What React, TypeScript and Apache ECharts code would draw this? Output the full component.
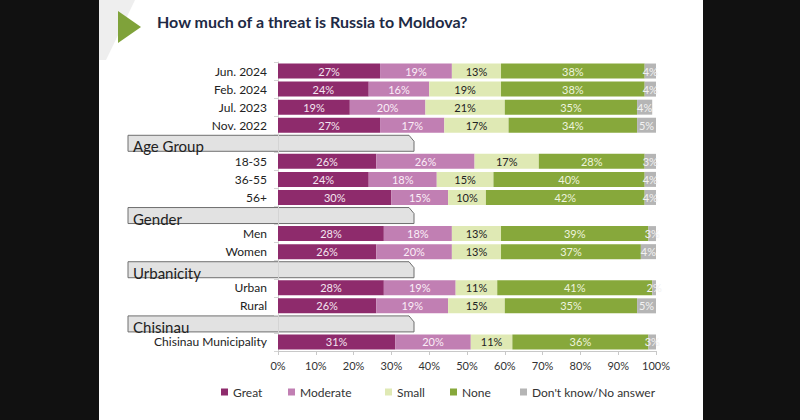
import React, { useEffect, useRef } from "react";
import * as echarts from "echarts";

const categories = [
  "Jun. 2024", "Feb. 2024", "Jul. 2023", "Nov. 2022",
  "Age Group", "18-35", "36-55", "56+",
  "Gender", "Men", "Women",
  "Urbanicity", "Urban", "Rural",
  "Chisinau", "Chisinau Municipality",
];
const headers = ["Age Group", "Gender", "Urbanicity", "Chisinau"];

const seriesNames = ["Great", "Moderate", "Small", "None", "Don't know/No answer"];
const great = [27, 24, 19, 27, null, 26, 24, 30, null, 28, 26, null, 28, 26, null, 31];
const moderate = [19, 16, 20, 17, null, 26, 18, 15, null, 18, 20, null, 19, 19, null, 20];
const small = [13, 19, 21, 17, null, 17, 15, 10, null, 13, 13, null, 11, 15, null, 11];
const none = [38, 38, 35, 34, null, 28, 40, 42, null, 39, 37, null, 41, 35, null, 36];
const dontKnow = [4, 4, 4, 5, null, 3, 4, 4, null, 3, 4, null, 2, 5, null, 3];
const xTicks = [0, 10, 20, 30, 40, 50, 60, 70, 80, 90, 100];

const colors = ["#8e2b6c", "#c17fb3", "#dfe9b4", "#87a83b", "#b5b5b5"];
const labelColors = ["#f4e6f0", "#fbeef7", "#222222", "#eef4de", "#f2f2f2"];
const legendLeft = [221, 288, 385, 450, 520];
const FONT = "Lato";

export default function App() {
  const ref = useRef<HTMLDivElement>(null);
  useEffect(() => {
    if (!ref.current) return;
    const chart = echarts.init(ref.current, undefined, { renderer: "svg" });
    const values = [great, moderate, small, none, dontKnow];
    const option: any = {
      animation: false,
      backgroundColor: "#111111",
      textStyle: { fontFamily: FONT },
      title: {
        text: "How much of a threat is Russia to Moldova?",
        left: 157,
        top: 13,
        padding: 0,
        textStyle: { fontSize: 16, fontWeight: "bold", color: "#1e2a45", fontFamily: FONT },
      },
      legend: seriesNames.map((n, i) => ({
        data: [n],
        left: legendLeft[i],
        top: 386,
        padding: 0,
        itemWidth: 7,
        itemHeight: 7,
        icon: "rect",
        selectedMode: false,
        textStyle: { fontSize: 12, color: "#333", fontFamily: FONT },
      })),
      grid: { left: 278, right: 144, top: 62, bottom: 420 - 351 },
      xAxis: {
        type: "value",
        min: 0,
        max: 100,
        interval: 10,
        axisLine: { show: true, lineStyle: { color: "#c8c8c8" } },
        axisTick: { show: true, length: 4, lineStyle: { color: "#c8c8c8" } },
        splitLine: { show: false },
        axisLabel: {
          fontSize: 11,
          color: "#333",
          margin: 9,
          fontFamily: FONT,
          formatter: (v: number) => (xTicks.includes(v) ? v + "%" : ""),
        },
      },
      yAxis: {
        type: "category",
        inverse: true,
        data: categories,
        axisLine: { show: true, lineStyle: { color: "#d4d4d4" } },
        axisTick: { show: true, length: 4, lineStyle: { color: "#d4d4d4" } },
        axisLabel: {
          fontSize: 12,
          color: "#222",
          margin: 11,
          fontFamily: FONT,
          formatter: (v: string) => (headers.includes(v) ? "" : v),
        },
      },
      series: seriesNames.map((n, i) => ({
        name: n,
        type: "bar",
        stack: "total",
        barWidth: 15,
        clip: true,
        itemStyle: { color: colors[i] },
        label: {
          show: true,
          position: "inside",
          fontSize: 11,
          fontFamily: FONT,
          color: labelColors[i],
          formatter: (p: any) => (p.value == null ? "" : p.value + "%"),
        },
        data: values[i],
      })),
    };
    chart.setOption(option);

    const graphics: any[] = [
      { type: "rect", id: "white", z: -10, shape: { x: 99, y: 0, width: 604, height: 420 }, style: { fill: "#ffffff" } },
      { type: "polygon", id: "deco", z: -9, shape: { points: [[99, 0], [135, 0], [106, 60], [99, 60]] }, style: { fill: "#eeeeee" } },
      { type: "polygon", id: "tri", shape: { points: [[118, 11], [141, 27], [118, 43]] }, style: { fill: "#7fa23a" } },
    ];
    headers.forEach((h, k) => {
      const idx = categories.indexOf(h);
      const c = chart.convertToPixel({ yAxisIndex: 0 }, idx) as number;
      graphics.push({
        type: "polygon",
        id: "hbox" + k,
        shape: {
          points: [[128, c - 8], [409, c - 8], [414, c - 2], [414, c + 8], [128, c + 8]],
        },
        style: { fill: "#e2e2e2", stroke: "#6f6f6f", lineWidth: 1 },
      });
      graphics.push({
        type: "text",
        id: "htext" + k,
        x: 133,
        y: c + 3,
        style: {
          text: h,
          fontSize: 15,
          fontFamily: FONT,
          fill: "#222",
          textVerticalAlign: "middle",
          verticalAlign: "middle",
        },
      });
    });
    chart.setOption({ graphic: graphics });

    return () => chart.dispose();
  }, []);
  return (
    <div
      ref={ref}
      style={{ position: "fixed", left: 0, top: 0, width: 800, height: 420 }}
    />
  );
}
